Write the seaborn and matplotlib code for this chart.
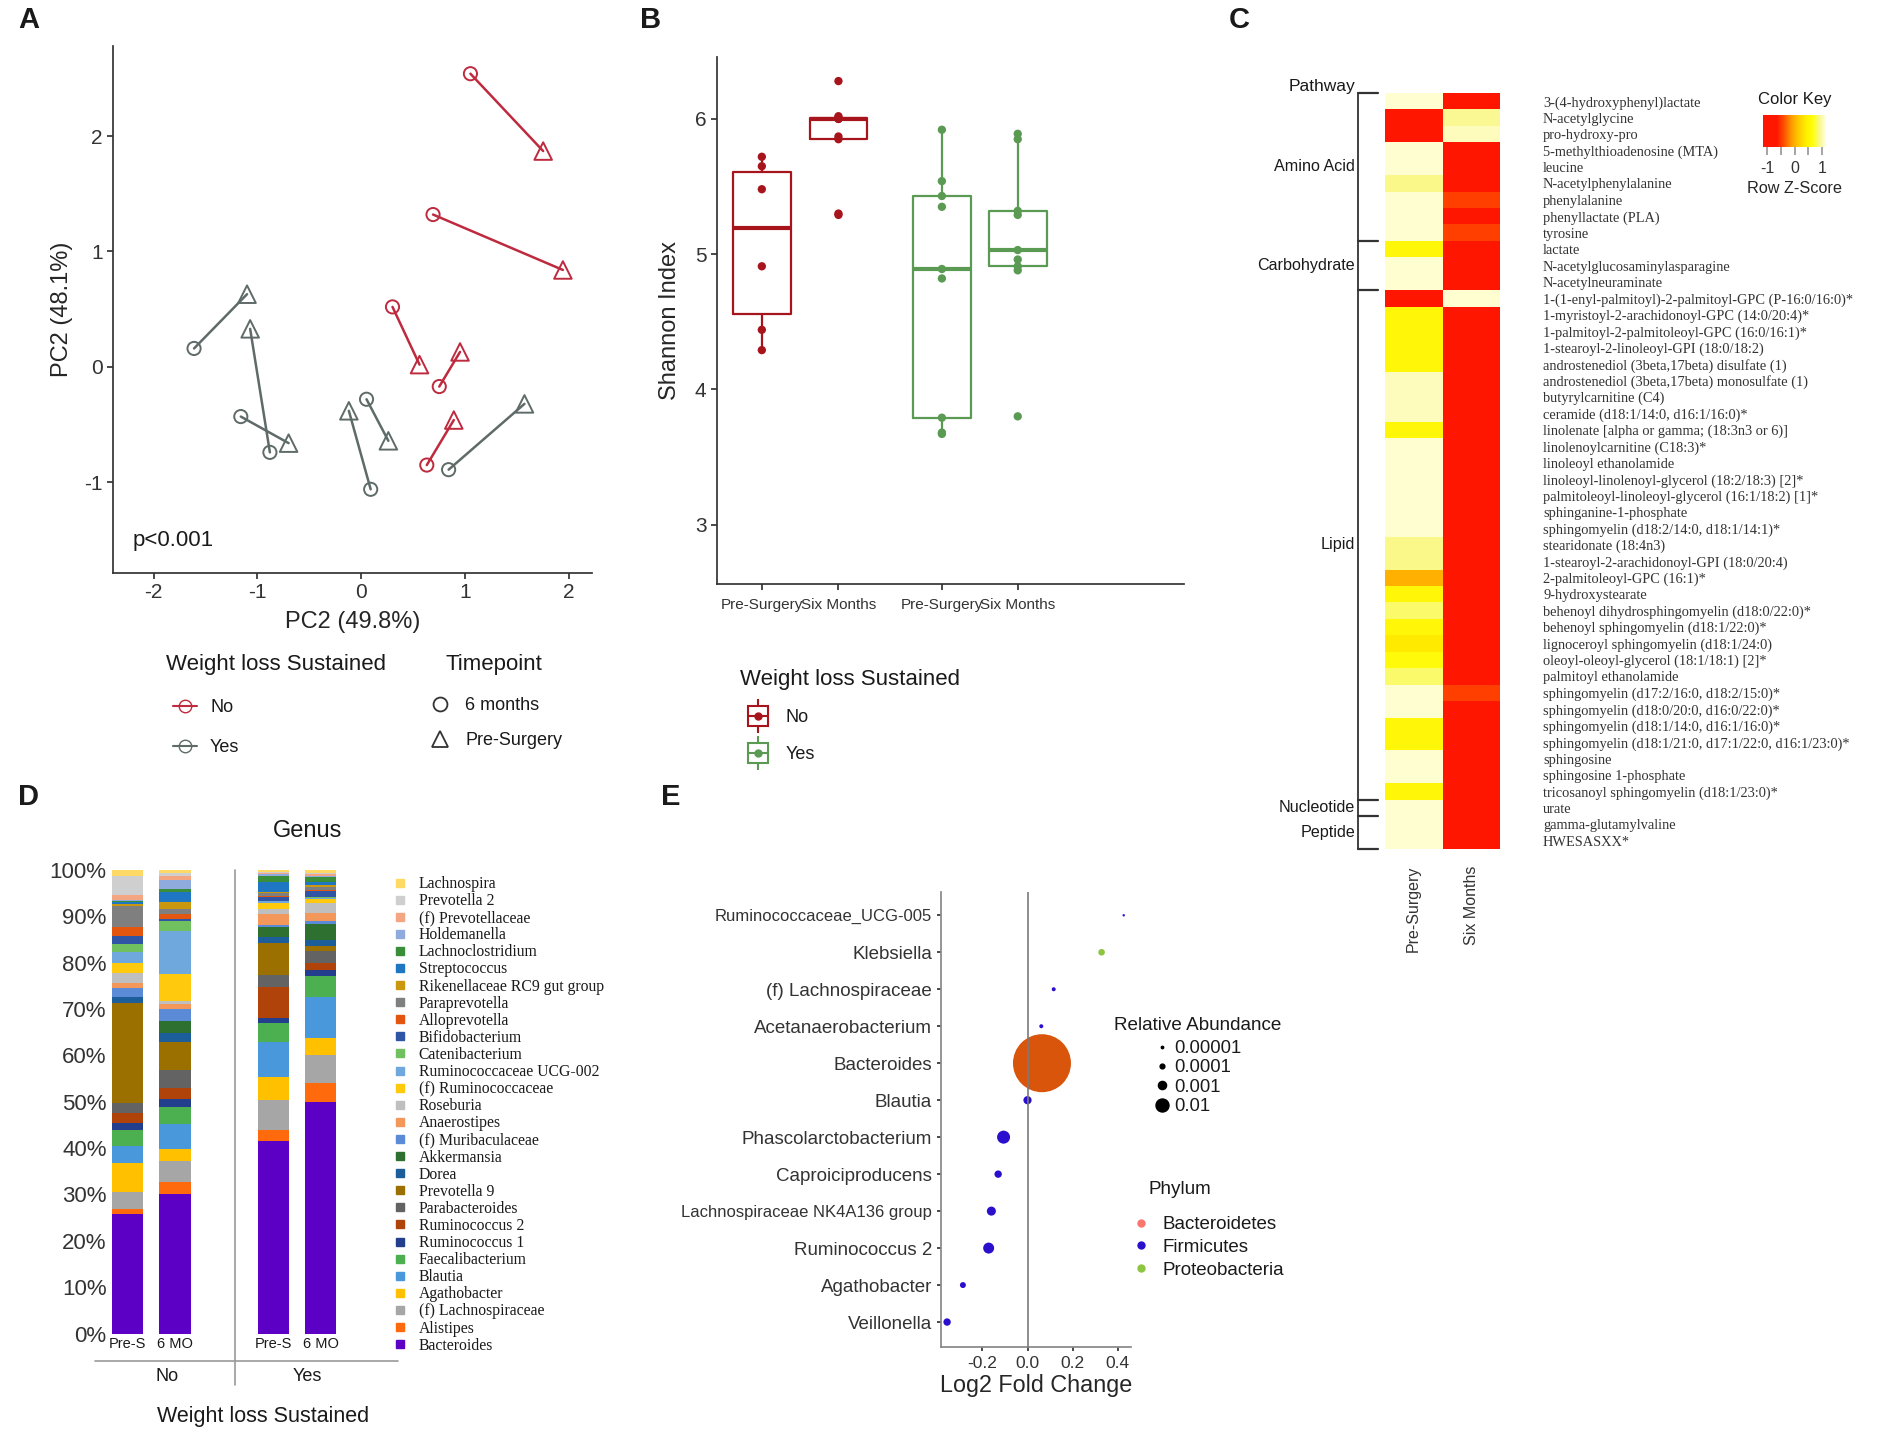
import numpy as np
import pandas as pd
import matplotlib.pyplot as plt
import matplotlib.colors as mcolors
from matplotlib.lines import Line2D
import seaborn as sns

# ---------------- data ----------------
# A: PCA scores, one 6-month and one pre-surgery point per patient
pca_group = ["No"] * 5 + ["Yes"] * 6
pca_6mo_x = [1.05, 0.69, 0.30, 0.75, 0.63, -1.61, -0.88, -1.16, 0.09, 0.05, 0.84]
pca_6mo_y = [2.54, 1.32, 0.52, -0.17, -0.85, 0.16, -0.74, -0.43, -1.06, -0.28, -0.89]
pca_pre_x = [1.75, 1.94, 0.56, 0.95, 0.89, -1.10, -1.07, -0.70, -0.12, 0.26, 1.57]
pca_pre_y = [1.87, 0.84, 0.02, 0.13, -0.46, 0.63, 0.33, -0.66, -0.38, -0.64, -0.32]

# B: Shannon index
shannon_no_pre = [4.29, 4.44, 4.91, 5.48, 5.65, 5.72]
shannon_no_6mo = [5.29, 5.30, 5.85, 5.87, 6.00, 6.00, 6.01, 6.02, 6.28]
shannon_yes_pre = [3.67, 3.68, 3.79, 4.82, 4.89, 5.35, 5.43, 5.54, 5.92]
shannon_yes_6mo = [3.80, 4.88, 4.91, 4.96, 5.03, 5.29, 5.32, 5.85, 5.89]
box_labels = ["Pre-Surgery", "Six Months", "Pre-Surgery", "Six Months"]

# C: metabolite heatmap (row z-scores)
metabolites = [
    "3-(4-hydroxyphenyl)lactate", "N-acetylglycine", "pro-hydroxy-pro",
    "5-methylthioadenosine (MTA)", "leucine", "N-acetylphenylalanine",
    "phenylalanine", "phenyllactate (PLA)", "tyrosine", "lactate",
    "N-acetylglucosaminylasparagine", "N-acetylneuraminate",
    "1-(1-enyl-palmitoyl)-2-palmitoyl-GPC (P-16:0/16:0)*",
    "1-myristoyl-2-arachidonoyl-GPC (14:0/20:4)*",
    "1-palmitoyl-2-palmitoleoyl-GPC (16:0/16:1)*",
    "1-stearoyl-2-linoleoyl-GPI (18:0/18:2)",
    "androstenediol (3beta,17beta) disulfate (1)",
    "androstenediol (3beta,17beta) monosulfate (1)",
    "butyrylcarnitine (C4)", "ceramide (d18:1/14:0, d16:1/16:0)*",
    "linolenate [alpha or gamma; (18:3n3 or 6)]",
    "linolenoylcarnitine (C18:3)*", "linoleoyl ethanolamide",
    "linoleoyl-linolenoyl-glycerol (18:2/18:3) [2]*",
    "palmitoleoyl-linoleoyl-glycerol (16:1/18:2) [1]*",
    "sphinganine-1-phosphate", "sphingomyelin (d18:2/14:0, d18:1/14:1)*",
    "stearidonate (18:4n3)", "1-stearoyl-2-arachidonoyl-GPI (18:0/20:4)",
    "2-palmitoleoyl-GPC (16:1)*", "9-hydroxystearate",
    "behenoyl dihydrosphingomyelin (d18:0/22:0)*",
    "behenoyl sphingomyelin (d18:1/22:0)*",
    "lignoceroyl sphingomyelin (d18:1/24:0)",
    "oleoyl-oleoyl-glycerol (18:1/18:1) [2]*", "palmitoyl ethanolamide",
    "sphingomyelin (d17:2/16:0, d18:2/15:0)*",
    "sphingomyelin (d18:0/20:0, d16:0/22:0)*",
    "sphingomyelin (d18:1/14:0, d16:1/16:0)*",
    "sphingomyelin (d18:1/21:0, d17:1/22:0, d16:1/23:0)*",
    "sphingosine", "sphingosine 1-phosphate",
    "tricosanoyl sphingomyelin (d18:1/23:0)*", "urate",
    "gamma-glutamylvaline", "HWESASXX*",
]
pathway = ["Amino Acid"] * 9 + ["Carbohydrate"] * 3 + ["Lipid"] * 31 + ["Nucleotide"] + ["Peptide"] * 2
z_pre = [1.1, -1.0, -1.0, 1.1, 1.1, 0.9, 1.1, 1.1, 1.1, 0.55, 1.1, 1.1,
         -1.0, 0.55, 0.55, 0.55, 0.55, 1.05, 1.05, 1.05, 0.55, 1.1, 1.1, 1.1,
         1.1, 1.1, 1.1, 0.9, 0.9, 0.0, 0.55, 0.85, 0.55, 0.4, 0.6, 0.85, 1.1,
         1.1, 0.55, 0.55, 1.1, 1.1, 0.55, 1.1, 1.1, 1.1]
z_six = [-1.0, 0.92, 1.05, -1.0, -1.0, -1.0, -0.45, -1.0, -0.45, -1.0, -1.0, -1.0,
         1.1, -1.0, -1.0, -1.0, -1.0, -1.0, -1.0, -1.0, -1.0, -1.0, -1.0, -1.0,
         -1.0, -1.0, -1.0, -1.0, -1.0, -1.0, -1.0, -1.0, -1.0, -1.0, -1.0, -1.0,
         -0.45, -1.0, -1.0, -1.0, -1.0, -1.0, -1.0, -1.0, -1.0, -1.0]

# D: genus composition (%), legend order top -> bottom
genera = ["Lachnospira", "Prevotella 2", "(f) Prevotellaceae", "Holdemanella",
          "Lachnoclostridium", "Streptococcus", "Rikenellaceae RC9 gut group",
          "Paraprevotella", "Alloprevotella", "Bifidobacterium", "Catenibacterium",
          "Ruminococcaceae UCG-002", "(f) Ruminococcaceae", "Roseburia",
          "Anaerostipes", "(f) Muribaculaceae", "Akkermansia", "Dorea",
          "Prevotella 9", "Parabacteroides", "Ruminococcus 2", "Ruminococcus 1",
          "Faecalibacterium", "Blautia", "Agathobacter", "(f) Lachnospiraceae",
          "Alistipes", "Bacteroides"]
bar_labels = ["Pre-S", "6 MO", "Pre-S", "6 MO"]
pct_no_pre = [1.3, 4.2, 0.9, 0.2, 0.3, 0.4, 0.4, 4.5, 2.0, 1.8, 1.7, 2.3, 2.2, 2.2,
              1.1, 2.0, 0.0, 1.2, 21.6, 2.2, 2.0, 1.7, 3.3, 3.8, 6.1, 3.8, 1.1, 25.7]
pct_no_6mo = [0.6, 0.7, 0.9, 2.0, 0.6, 2.0, 1.6, 1.2, 0.9, 0.6, 2.0, 9.4, 5.8, 0.7,
              0.9, 2.7, 2.5, 2.0, 6.1, 3.8, 2.3, 1.8, 3.8, 5.4, 2.4, 4.6, 2.7, 30.0]
pct_yes_pre = [0.5, 0.2, 0.2, 0.3, 1.4, 2.2, 0.2, 0.6, 0.3, 0.7, 0.0, 0.6, 1.2, 1.2,
               2.3, 0.4, 2.2, 1.3, 6.8, 2.7, 6.7, 1.1, 4.1, 7.4, 5.0, 6.6, 2.2, 41.6]
pct_yes_6mo = [0.6, 0.3, 0.3, 0.3, 1.0, 0.8, 0.3, 0.7, 0.2, 1.3, 0.2, 0.3, 0.9, 2.1,
               1.7, 0.7, 3.3, 1.3, 1.1, 2.7, 1.5, 1.2, 4.5, 8.9, 3.8, 6.0, 4.0, 50.0]

# E: differential abundance
e_genus = ["Ruminococcaceae_UCG-005", "Klebsiella", "(f) Lachnospiraceae",
           "Acetanaerobacterium", "Bacteroides", "Blautia", "Phascolarctobacterium",
           "Caproiciproducens", "Lachnospiraceae NK4A136 group", "Ruminococcus 2",
           "Agathobacter", "Veillonella"]
e_lfc = [0.426, 0.328, 0.116, 0.061, 0.064, 0.0, -0.106, -0.130, -0.160, -0.172, -0.286, -0.356]
e_abund = [1e-5, 3.4e-4, 4.6e-5, 4.6e-5, 0.35, 1e-3, 1e-2, 5.8e-4, 1.5e-3, 3.8e-3, 2.2e-4, 5.8e-4]
e_phylum = ["Firmicutes", "Proteobacteria", "Firmicutes", "Firmicutes", "Bacteroidetes",
            "Firmicutes", "Firmicutes", "Firmicutes", "Firmicutes", "Firmicutes",
            "Firmicutes", "Firmicutes"]
abund_breaks = [0.00001, 0.0001, 0.001, 0.01]

# ---------------- style ----------------
sns.set_theme(style="ticks")
plt.rcParams["font.family"] = ["Liberation Sans", "DejaVu Sans"]
plt.rcParams["axes.unicode_minus"] = False
plt.rcParams["axes.edgecolor"] = "#333333"
plt.rcParams["xtick.color"] = "#333333"
plt.rcParams["ytick.color"] = "#333333"
plt.rcParams["text.color"] = "#1a1a1a"

W, H = 1902, 1445
fig = plt.figure(figsize=(W / 100, H / 100), dpi=100)


def rect(x0, y0, x1, y1):
    return [x0 / W, 1 - y1 / H, (x1 - x0) / W, (y1 - y0) / H]


def fpos(x, y):
    return (x / W, 1 - y / H)


def key_legend(handles, labels, x, y, **kw):
    opts = dict(loc="upper left", bbox_to_anchor=fpos(x, y), frameon=False,
                borderpad=0, borderaxespad=0)
    opts.update(kw)
    return fig.legend(handles, labels, **opts)


red_a, grey_a = "#BE2A3E", "#5E6B68"
red_b, green_b = "#A8141C", "#5B9A53"

# ---------------- A ----------------
axA = fig.add_axes(rect(113, 46, 592, 573))
rows = []
for i, g in enumerate(pca_group):
    rows.append(dict(pair=i, group=g, time="6 months", x=pca_6mo_x[i], y=pca_6mo_y[i]))
    rows.append(dict(pair=i, group=g, time="Pre-Surgery", x=pca_pre_x[i], y=pca_pre_y[i]))
dfA = pd.DataFrame(rows)
palA = {"No": red_a, "Yes": grey_a}
sns.lineplot(data=dfA, x="x", y="y", hue="group", units="pair", estimator=None,
             sort=False, palette=palA, linewidth=1.8, legend=False, ax=axA)
sns.scatterplot(data=dfA, x="x", y="y", hue="group", style="time", size="time",
                markers={"6 months": "o", "Pre-Surgery": "^"},
                sizes={"6 months": 90, "Pre-Surgery": 160},
                palette=palA, linewidth=1.4, legend=False, ax=axA, zorder=3)
pts = axA.collections[-1]
pts.set_edgecolors(pts.get_facecolors())
pts.set_facecolors("none")
axA.set_xlim(-2.39, 2.22)
axA.set_ylim(-1.785, 2.78)
axA.set_xticks([-2, -1, 0, 1, 2])
axA.set_yticks([-1, 0, 1, 2])
axA.tick_params(labelsize=15, length=4)
axA.set_xlabel("PC2 (49.8%)", fontsize=17, labelpad=6)
axA.set_ylabel("PC2 (48.1%)", fontsize=17, labelpad=8)
sns.despine(ax=axA)
axA.text(-2.2, -1.5, "p<0.001", fontsize=16, va="center")

fig.text(*fpos(166, 665), "Weight loss Sustained", fontsize=16, va="center")
hA = [Line2D([], [], color=red_a, marker="o", mfc="none", mec=red_a, markersize=9, lw=1.5),
      Line2D([], [], color=grey_a, marker="o", mfc="none", mec=grey_a, markersize=9, lw=1.5)]
key_legend(hA, ["No", "Yes"], 173, 699, fontsize=13, labelspacing=1.28,
           handlelength=1.33, handletextpad=0.72)
fig.text(*fpos(446, 665), "Timepoint", fontsize=16, va="center")
hT = [Line2D([], [], ls="none", marker="o", mfc="none", mec="#333333", markersize=10, mew=1.3),
      Line2D([], [], ls="none", marker="^", mfc="none", mec="#333333", markersize=12, mew=1.3)]
key_legend(hT, ["6 months", "Pre-Surgery"], 431, 697, fontsize=13, labelspacing=1.0,
           handlelength=1.0, handletextpad=0.9)

# ---------------- B ----------------
axB = fig.add_axes(rect(717, 57, 1184, 584))
box_pos = [1.0, 2.0, 3.35, 4.34]
groups_b = [("No", shannon_no_pre), ("No", shannon_no_6mo),
            ("Yes", shannon_yes_pre), ("Yes", shannon_yes_6mo)]
rows = []
for p, (g, vals) in zip(box_pos, groups_b):
    for v in vals:
        rows.append(dict(pos=p, group=g, shannon=v))
dfB = pd.DataFrame(rows)
palB = {"No": red_b, "Yes": green_b}
sns.boxplot(data=dfB, x="pos", y="shannon", hue="group", palette=palB,
            native_scale=True, fill=False, width=0.76, showcaps=False,
            showfliers=False, linewidth=1.6, medianprops={"linewidth": 3.0},
            legend=False, ax=axB)
sns.stripplot(data=dfB, x="pos", y="shannon", hue="group", palette=palB,
              native_scale=True, jitter=False, size=6, legend=False, ax=axB, zorder=3)
axB.set_xlim(0.415, 6.51)
axB.set_ylim(2.56, 6.458)
axB.set_xticks(box_pos)
axB.set_xticklabels(box_labels, fontsize=11)
axB.set_yticks([3, 4, 5, 6])
axB.tick_params(axis="y", labelsize=15, length=4)
axB.tick_params(axis="x", length=4, pad=6)
axB.set_xlabel("")
axB.set_ylabel("Shannon Index", fontsize=17, labelpad=10)
sns.despine(ax=axB)


def box_handle(c):
    return (Line2D([], [], ls="none", marker="|", markersize=24, mew=1.5, color=c),
            Line2D([], [], ls="none", marker="s", markersize=14, mfc="white", mec=c, mew=1.5),
            Line2D([], [], ls="none", marker="_", markersize=14, mew=1.5, color=c),
            Line2D([], [], ls="none", marker="o", markersize=5, color=c))


fig.text(*fpos(740, 679), "Weight loss Sustained", fontsize=16, va="center")
key_legend([box_handle(red_b), box_handle(green_b)], ["No", "Yes"], 745, 709,
           fontsize=13, labelspacing=1.1, handlelength=1.4, handletextpad=0.86)

# ---------------- C ----------------
axC = fig.add_axes(rect(1385, 93, 1500, 849))
cax = fig.add_axes(rect(1763, 115, 1826, 147))
heat = mcolors.LinearSegmentedColormap.from_list(
    "heatkey", [(0.0, "#FF1500"), (0.22, "#FF1800"), (0.32, "#FF4800"),
                (0.45, "#FF9A00"), (0.56, "#FFC800"), (0.70, "#FFF200"),
                (0.80, "#FFFF10"), (0.90, "#FAF890"), (1.0, "#FFFFE0")])
dfC = pd.DataFrame({"Pre-Surgery": z_pre, "Six Months": z_six}, index=metabolites)
sns.heatmap(dfC, cmap=heat, vmin=-1.15, vmax=1.15, ax=axC, cbar_ax=cax,
            cbar_kws={"orientation": "horizontal"}, linewidths=0)
axC.yaxis.tick_right()
axC.set_yticks(np.arange(len(metabolites)) + 0.5)
axC.set_yticklabels(metabolites, rotation=0, fontsize=10.4, family=["Liberation Serif"])
axC.tick_params(axis="y", length=0, pad=31)
axC.set_xticklabels(dfC.columns, rotation=90, fontsize=11.5)
axC.tick_params(axis="x", length=0, pad=12)
axC.set_xlabel("")
axC.set_ylabel("")

# pathway bracket
bx, tx = -0.47, -0.12
axC.plot([bx, bx], [0, len(pathway)], color="#333333", lw=1.3, clip_on=False)
edges = [0]
names = [pathway[0]]
for i in range(1, len(pathway)):
    if pathway[i] != pathway[i - 1]:
        edges.append(i)
        names.append(pathway[i])
edges.append(len(pathway))
for e in edges:
    axC.plot([bx, tx], [e, e], color="#333333", lw=1.6, clip_on=False)
for k, nm in enumerate(names):
    axC.text(-0.52, (edges[k] + edges[k + 1]) / 2, nm, ha="right", va="center", fontsize=11.6)
axC.text(-0.52, -0.4, "Pathway", ha="right", va="center", fontsize=12.5)

cbar = axC.collections[0].colorbar
cbar.outline.set_visible(False)
cax.set_xticks([-1, -0.5, 0, 0.5, 1])
cax.set_xticklabels(["-1", "", "0", "", "1"])
cax.tick_params(length=6, labelsize=11.5, pad=4, color="#999999")
cax.set_title("Color Key", fontsize=12, pad=8)
cax.set_xlabel("Row Z-Score", fontsize=11.7, labelpad=4)

# ---------------- D ----------------
axD = fig.add_axes(rect(108, 870, 398, 1333.5))
bar_pos = [0, 1, 3.07, 4.07]
bar_bins = [-0.5, 0.5, 1.5, 2.57, 3.57, 4.57]
rows = []
for p, vals in zip(bar_pos, [pct_no_pre, pct_no_6mo, pct_yes_pre, pct_yes_6mo]):
    for g, v in zip(genera, vals):
        rows.append(dict(pos=p, genus=g, pct=v))
dfD = pd.DataFrame(rows)
genus_colors = ["#FFD966", "#CFCFCF", "#F4A582", "#8FAADC", "#3A8E3A", "#1F77C4",
                "#C9980E", "#7F7F7F", "#E2560F", "#2F55A4", "#70C060", "#6FA8DC",
                "#FFC90E", "#BFBFBF", "#F4975A", "#5B8BD6", "#2E7030", "#1B5E9A",
                "#9C7000", "#636363", "#B0430A", "#223E8C", "#4CB050", "#4A98DC",
                "#FFC000", "#A6A6A6", "#FF6A0D", "#5C00C6"]
palD = dict(zip(genera, genus_colors))
sns.histplot(data=dfD, x="pos", weights="pct", hue="genus", hue_order=genera,
             palette=palD, multiple="stack", bins=bar_bins, shrink=0.66,
             linewidth=0, alpha=1, legend=False, ax=axD)
axD.set_xlim(-0.41, 5.7)
axD.set_ylim(0, 100)
axD.set_yticks(range(0, 101, 10))
axD.set_yticklabels([f"{v}%" for v in range(0, 101, 10)], fontsize=16)
axD.set_xticks([])
axD.tick_params(axis="y", length=0, pad=1)
axD.set_xlabel("")
axD.set_ylabel("")
sns.despine(ax=axD, left=True, bottom=True)
axD.text(3.8, 108.4, "Genus", ha="center", va="center", fontsize=17)
for p, lab in zip(bar_pos, bar_labels):
    axD.text(p, -0.8, lab, ha="center", va="top", fontsize=10.5)
axD.plot([-0.69, 5.7], [-5.9, -5.9], color="#999999", lw=1.2, clip_on=False)
axD.plot([2.27, 2.27], [100, -11.1], color="#999999", lw=1.2, clip_on=False)
axD.text(0.84, -9.2, "No", ha="center", va="center", fontsize=13)
axD.text(3.8, -9.2, "Yes", ha="center", va="center", fontsize=13)
axD.text(2.86, -18, "Weight loss Sustained", ha="center", va="center", fontsize=15.5)

hD = [Line2D([], [], ls="none", marker="s", markersize=6, mfc=c, mec=c) for c in genus_colors]
key_legend(hD, genera, 394, 876, prop={"family": ["Liberation Serif"], "size": 11.3},
           labelspacing=0.07, handlelength=0.8, handletextpad=0.78)

# ---------------- E ----------------
axE = fig.add_axes(rect(941, 892, 1130.5, 1347))


def abund_area(a):
    r = np.interp(np.log10(a), [-5, -4, -3, -2, -0.5], [1.2, 2.4, 4.1, 6.5, 29.0])
    return (2 * r * 0.72) ** 2


dfE = pd.DataFrame({"genus": e_genus, "lfc": e_lfc, "abund": e_abund, "phylum": e_phylum})
palE = {"Bacteroidetes": "#D9550C", "Firmicutes": "#2A10CC", "Proteobacteria": "#8DC540"}
sns.scatterplot(data=dfE, x="lfc", y="genus", hue="phylum", palette=palE,
                size="abund", sizes={a: abund_area(a) for a in e_abund},
                linewidth=0, legend=False, ax=axE, zorder=2)
axE.axvline(0, color="#7a7a7a", lw=1.2, zorder=3)
axE.set_xlim(-0.383, 0.456)
axE.set_ylim(len(e_genus) - 0.325, -0.63)
axE.set_xticks([-0.2, 0.0, 0.2, 0.4])
axE.set_xticklabels(["-0.2", "0.0", "0.2", "0.4"])
axE.tick_params(axis="x", labelsize=12.5, length=3)
axE.tick_params(axis="y", labelsize=13.5, length=3)
for lab in axE.get_yticklabels():
    if lab.get_text() in ("Ruminococcaceae_UCG-005", "Lachnospiraceae NK4A136 group"):
        lab.set_fontsize(12)
axE.set_xlabel("Log2 Fold Change", fontsize=16.8, labelpad=2)
axE.set_ylabel("")
for s in ("left", "bottom"):
    axE.spines[s].set_color("#888888")
sns.despine(ax=axE)

fig.text(*fpos(1198, 1026), "Relative Abundance", fontsize=13.6, va="center", ha="center")
hR = [Line2D([], [], ls="none", marker="o", color="black",
             markersize=np.sqrt(abund_area(a))) for a in abund_breaks]
key_legend(hR, ["0.00001", "0.0001", "0.001", "0.01"], 1153, 1040, fontsize=13.3,
           labelspacing=0.13, handlelength=1.0, handletextpad=0.14)
fig.text(*fpos(1149, 1189), "Phylum", fontsize=13.6, va="center")
hP = [Line2D([], [], ls="none", marker="o", color=c, markersize=5)
      for c in ["#F8766D", "#2A10CC", "#8DC540"]]
key_legend(hP, ["Bacteroidetes", "Firmicutes", "Proteobacteria"], 1132, 1216,
           fontsize=13.5, labelspacing=0.3, handlelength=1.0, handletextpad=0.6)

# ---------------- panel letters ----------------
for lab, x, y in [("A", 18, 20), ("B", 640, 20), ("C", 1229, 20), ("D", 18, 797), ("E", 661, 797)]:
    fig.text(*fpos(x, y), lab, fontsize=21, fontweight="bold", va="center", ha="left")

fig.savefig("out.png", dpi=100)
